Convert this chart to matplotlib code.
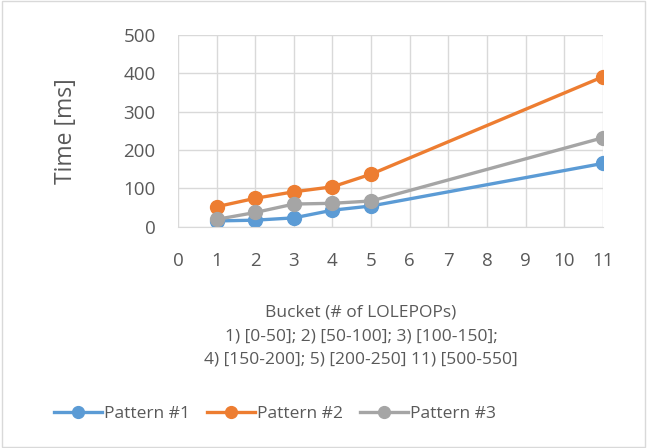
import numpy as np
import matplotlib.pyplot as plt

plt.rcParams['font.family'] = ['Open Sans', 'DejaVu Sans']

# buckets and timings (ms)
buckets = [1, 2, 3, 4, 5, 11]
pattern1 = [15, 17, 23, 43, 54, 165]
pattern2 = [52, 74, 91, 104, 137, 391]
pattern3 = [19, 37, 59, 61, 67, 232]
names = ['Pattern #1', 'Pattern #2', 'Pattern #3']
colors = ['#5b9bd5', '#ed7d31', '#a5a5a5']
xticks = list(range(0, 12))
yticks = [0, 100, 200, 300, 400, 500]

fig = plt.figure(figsize=(6.47, 4.48), dpi=100)
ax = fig.add_axes([0.275, 0.494, 0.657, 0.428])

for ys, name, c in zip([pattern1, pattern2, pattern3], names, colors):
    ax.plot(buckets, ys, color=c, lw=2.4, marker='o', ms=10, label=name)

ax.set_xlim(0, 11)
ax.set_ylim(0, 500)
ax.set_xticks(xticks)
ax.set_yticks(yticks)
ax.grid(True, color='#d9d9d9', lw=1)
ax.set_axisbelow(True)
for s in ['top', 'right', 'left']:
    ax.spines[s].set_visible(False)
ax.spines['bottom'].set_color('#d9d9d9')
ax.tick_params(length=0, colors='#595959', labelsize=13.5)
ax.tick_params(axis='x', pad=18)
ax.tick_params(axis='y', pad=16)
ax.set_ylabel('Time [ms]', fontsize=16.5, color='#595959')
ax.yaxis.set_label_coords(-0.235, 0.5)

fig.text(0.558, 0.25, 'Bucket (# of LOLEPOPs)\n1) [0-50]; 2) [50-100]; 3) [100-150];\n4) [150-200]; 5) [200-250] 11) [500-550]',
         ha='center', va='center', fontsize=12.5, color='#595959', linespacing=1.6)

h, l = ax.get_legend_handles_labels()
fig.legend(h, l, loc='center', bbox_to_anchor=(0.425, 0.075), ncol=3, frameon=False,
           fontsize=12.5, labelcolor='#595959', handlelength=2.75, handletextpad=0.1,
           columnspacing=1.0, markerscale=0.85)

# chart border
fig.patches.append(plt.Rectangle((0.003, 0.003), 0.994, 0.994, transform=fig.transFigure,
                                 fill=False, edgecolor='#d9d9d9', lw=1))

fig.savefig('out.png', dpi=100)
